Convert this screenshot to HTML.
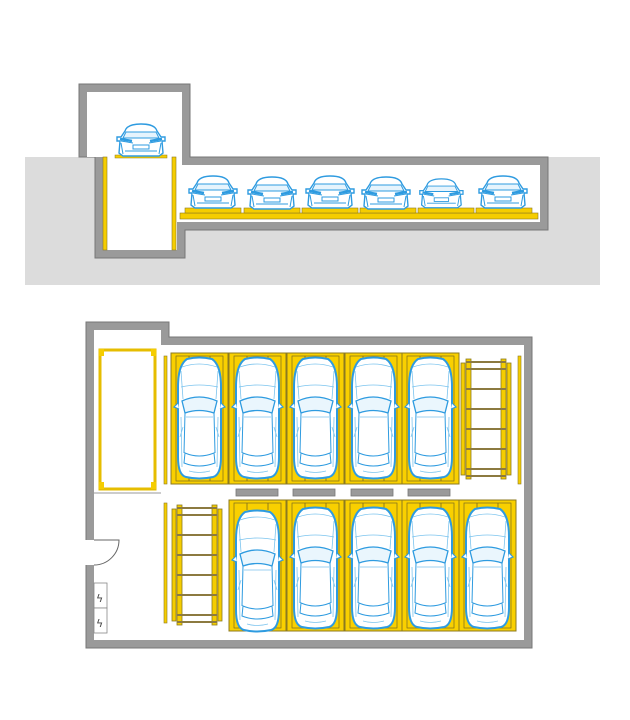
<!DOCTYPE html>
<html><head><meta charset="utf-8"><style>html,body{margin:0;padding:0;background:#fff}svg{display:block}</style></head><body>
<svg width="630" height="720" viewBox="0 0 630 720" xmlns="http://www.w3.org/2000/svg">
<defs>
<g id="ct">
 <path d="M10 2 Q22 -1 35 2 Q44 8 44 30 L44 100 Q44 118 36 120 Q22 123 9 120 Q1 118 1 100 L1 30 Q1 8 10 2 Z" fill="#fff" stroke="#2e9be0" stroke-width="2"/>
 <path d="M5 44 Q22 36 40 44 L37 56 Q22 51 8 56 Z" fill="#eaf6fd" stroke="#2e9be0" stroke-width="1.3"/>
 <path d="M8 56 L7 96 M37 56 L38 96 M8 96 Q22 102 37 96 L38 106 Q22 112 7 106 Z" fill="none" stroke="#2e9be0" stroke-width="1"/>
 <path d="M5 10 Q22 4 40 10 M4 30 Q22 26 41 30 M9 60 L36 60 M6 70 L3 80 M39 70 L42 80 M4 14 L6 42 M41 14 L39 42 M4 60 L5 110 M41 60 L40 110 M12 114 Q22 117 33 114" fill="none" stroke="#7cc4ee" stroke-width="0.8"/>
 <path d="M1 46 L-3 50 L2 52 M44 46 L48 50 L43 52" fill="#fff" stroke="#2e9be0" stroke-width="1.2"/>
</g>
<g id="cf">
 <path d="M10 8 Q12 1 26 1 Q40 1 42 8 L46 14 L50 14 L50 18 L47 18 L48 30 L44 33 L8 33 L4 30 L5 18 L2 18 L2 14 L6 14 Z" fill="#fff" stroke="#2e9be0" stroke-width="1.4"/>
 <path d="M11 9 L41 9 L44 15 L8 15 Z" fill="#e6f4fd" stroke="#2e9be0" stroke-width="1"/>
 <path d="M6 18 L18 20 M46 18 L34 20 M18 22 L34 22 L34 26 L18 26 Z M10 28 L42 28 M6 20 L8 31 M46 20 L44 31" fill="none" stroke="#2e9be0" stroke-width="1"/>
 <path d="M5 16 L17 18 M47 16 L35 18" stroke="#2e9be0" stroke-width="2.5"/>
</g>
<g id="slot">
 <rect x="0" y="0" width="57" height="131" fill="#f9d000" stroke="#8c7a20" stroke-width="1"/>
 <rect x="5" y="3" width="47" height="125" fill="none" stroke="#7b6a20" stroke-width="0.7"/>
 <path d="M18 3 V10 M39 3 V10 M18 121 V128 M39 121 V128" stroke="#7b6a20" stroke-width="0.8"/>
</g>
<g id="lad">
 <rect x="0" y="4" width="4" height="112" fill="#f5cd00" stroke="#8c7a20" stroke-width="0.8"/>
 <rect x="5" y="0" width="5" height="120" fill="#f5cd00" stroke="#8c7a20" stroke-width="0.8"/>
 <rect x="40" y="0" width="5" height="120" fill="#f5cd00" stroke="#8c7a20" stroke-width="0.8"/>
 <rect x="46" y="4" width="4" height="112" fill="#f5cd00" stroke="#8c7a20" stroke-width="0.8"/>
 <g stroke="#8c7a40" stroke-width="2">
 <line x1="5" y1="3" x2="45" y2="3"/><line x1="5" y1="10" x2="45" y2="10"/><line x1="5" y1="30" x2="45" y2="30"/><line x1="5" y1="50" x2="45" y2="50"/><line x1="5" y1="70" x2="45" y2="70"/><line x1="5" y1="90" x2="45" y2="90"/><line x1="5" y1="110" x2="45" y2="110"/><line x1="5" y1="117" x2="45" y2="117"/>
 </g>
</g>
</defs>
<!-- section -->
<rect x="25" y="157" width="575" height="128" fill="#dcdcdc"/>
<path d="M79 84 H190 V157 H548 V230 H185 V258 H95 V157 H79 Z" fill="#9a9a9a" stroke="#777" stroke-width="1"/>
<path d="M87 92 H182 V165 H540 V222 H177 V250 H103 V157 H87 Z" fill="#fff"/>
<rect x="103" y="157" width="4" height="93" fill="#f5cd00" stroke="#8c7a20" stroke-width="0.6"/>
<rect x="172" y="157" width="4" height="93" fill="#f5cd00" stroke="#8c7a20" stroke-width="0.6"/>
<rect x="115" y="155" width="52" height="3" fill="#f5cd00" stroke="#8c7a20" stroke-width="0.5"/>
<use href="#cf" x="115" y="123"/>
<rect x="180" y="213" width="358" height="6" fill="#f5cd00" stroke="#8c7a20" stroke-width="0.6"/>
<g fill="#f5cd00" stroke="#8c7a20" stroke-width="0.6">
<rect x="185" y="208" width="56" height="5"/><rect x="244" y="208" width="56" height="5"/><rect x="302" y="208" width="56" height="5"/><rect x="360" y="208" width="56" height="5"/><rect x="418" y="208" width="56" height="5"/><rect x="476" y="208" width="56" height="5"/>
</g>
<use href="#cf" x="187" y="175"/><use href="#cf" x="246" y="176"/><use href="#cf" x="304" y="175"/><use href="#cf" x="360" y="176"/><use href="#cf" x="418" y="178" transform="translate(418 178) scale(0.9) translate(-418 -178)"/><use href="#cf" x="477" y="175"/>
<!-- plan -->
<path d="M86 322 H169 V337 H532 V648 H86 Z" fill="#9a9a9a" stroke="#777" stroke-width="1"/>
<path d="M94 330 H161 V345 H524 V640 H94 Z" fill="#fff"/>
<rect x="84" y="540" width="12" height="25" fill="#fff"/>
<path d="M94 540 H119 A25 25 0 0 1 94 565" fill="none" stroke="#666" stroke-width="1"/>
<rect x="94" y="583" width="13" height="25" fill="#fff" stroke="#888" stroke-width="0.8"/>
<rect x="94" y="608" width="13" height="25" fill="#fff" stroke="#888" stroke-width="0.8"/>
<text x="96" y="602" font-family="DejaVu Sans" font-size="11" fill="#444">ϟ</text>
<text x="96" y="627" font-family="DejaVu Sans" font-size="11" fill="#444">ϟ</text>
<rect x="100" y="350" width="55" height="139" fill="#fff" stroke="#e6bd00" stroke-width="3"/>
<rect x="99" y="349" width="5" height="7" fill="#f5cd00"/><rect x="151" y="349" width="5" height="7" fill="#f5cd00"/><rect x="99" y="482" width="5" height="7" fill="#f5cd00"/><rect x="151" y="482" width="5" height="7" fill="#f5cd00"/>
<line x1="94" y1="493" x2="161" y2="493" stroke="#999" stroke-width="1"/>
<rect x="164" y="356" width="3" height="128" fill="#f5cd00" stroke="#8c7a20" stroke-width="0.6"/>
<rect x="164" y="503" width="3" height="120" fill="#f5cd00" stroke="#8c7a20" stroke-width="0.6"/>
<rect x="518" y="356" width="3" height="128" fill="#f5cd00" stroke="#8c7a20" stroke-width="0.6"/>
<use href="#slot" x="171" y="353"/><use href="#slot" x="229" y="353"/><use href="#slot" x="287" y="353"/><use href="#slot" x="345" y="353"/><use href="#slot" x="402" y="353"/>
<use href="#lad" x="461" y="359"/><use href="#lad" x="172" y="505"/>
<use href="#slot" x="229" y="500"/><use href="#slot" x="287" y="500"/><use href="#slot" x="345" y="500"/><use href="#slot" x="402" y="500"/><use href="#slot" x="459" y="500"/>
<use href="#ct" x="177" y="357"/><use href="#ct" x="235" y="357"/><use href="#ct" x="293" y="357"/><use href="#ct" x="351" y="357"/><use href="#ct" x="408" y="357"/>
<use href="#ct" x="235" y="510"/><use href="#ct" x="293" y="507"/><use href="#ct" x="351" y="507"/><use href="#ct" x="408" y="507"/><use href="#ct" x="465" y="507"/>
<g fill="#9a9a9a" stroke="#777" stroke-width="0.8">
<rect x="236" y="489" width="42" height="7"/><rect x="293" y="489" width="42" height="7"/><rect x="351" y="489" width="42" height="7"/><rect x="408" y="489" width="42" height="7"/>
</g>
</svg>
</body></html>
